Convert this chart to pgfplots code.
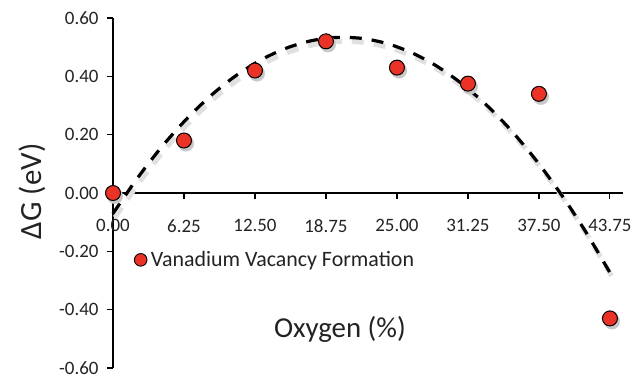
\documentclass[border=0pt]{standalone}
\usepackage{pgfplots}
\pgfplotsset{compat=1.18}
\usepackage{fontspec}
\setmainfont{Carlito}
\definecolor{vred}{RGB}{235,50,38}
\definecolor{txt}{RGB}{35,35,35}
\definecolor{shad}{RGB}{200,200,200}
\begin{document}
\begin{tikzpicture}
\path[use as bounding box] (-113bp,-9bp) rectangle (520bp,368bp);
\begin{axis}[
  at={(0,0)}, anchor=south west,
  scale only axis, width=510bp, height=350bp,
  xmin=0, xmax=44.9, ymin=-0.6, ymax=0.6,
  axis x line=middle, axis y line=left,
  axis line style={-, line width=1.1bp, black},
  hide obscured x ticks=false, hide obscured y ticks=false,
  xtick={0,6.25,12.5,18.75,25,31.25,37.5,43.75},
  ytick={-0.6,-0.4,-0.2,0,0.2,0.4,0.6},
  tick style={line width=1.1bp, black},
  major tick length=6bp,
  tick align=outside,
  /pgf/number format/.cd, fixed, fixed zerofill, precision=2, assume math mode=true,
  /pgfplots/.cd,
  every tick label/.append style={font=\fontsize{19}{22}\selectfont, text=txt},
  xticklabel style={yshift=-17bp},
  yticklabel style={xshift=-5bp},
  xlabel={Oxygen (\%)},
  ylabel={ΔG (eV)},
  xlabel style={at={(axis description cs:0.445,0.109)}, anchor=center, font=\fontsize{29}{34}\selectfont, text=txt},
  ylabel style={at={(axis description cs:-0.159,0.505)}, anchor=center, font=\fontsize{31}{36}\selectfont, text=txt},
  legend style={at={(axis description cs:0.031,0.309)}, anchor=west, draw=none, fill=none,
    font=\fontsize{22}{26}\selectfont, text=txt,
    /tikz/every even column/.append style={column sep=0pt}},
  legend cell align=left,
  legend image code/.code={\draw[#1] plot coordinates {(0.3cm,0cm)};\path (0cm,0cm) (0.58cm,0cm);},
  clip=false,
]
% marker shadows
\addplot[forget plot, only marks, mark=*, mark size=7.8bp, xshift=2bp, yshift=-3bp,
  mark options={draw=shad, fill=shad}]
  coordinates {(0,0) (6.25,0.18) (12.5,0.42) (18.75,0.52) (25,0.43) (31.25,0.375) (37.5,0.34) (43.75,-0.43)};
% trend line shadow
\addplot[forget plot, smooth, no marks, line width=5bp, black!12, xshift=2bp, yshift=-4bp,
  dash pattern=on 12bp off 10bp]
  coordinates {(0,-0.0701) (2.1875,0.0530) (4.375,0.1622) (6.5625,0.2573) (8.75,0.3385) (10.9375,0.4055)
   (13.125,0.4585) (15.3125,0.4974) (17.5,0.5224) (19.6875,0.5333) (21.875,0.5302) (24.0625,0.5131)
   (26.25,0.4818) (28.4375,0.4366) (30.625,0.3773) (32.8125,0.3041) (35,0.2167) (37.1875,0.1153)
   (39.375,-0.0002) (41.5625,-0.1296) (43.75,-0.2731)};
% markers
\addplot[forget plot, only marks, mark=*, mark size=7.5bp,
  mark options={draw=black, line width=1bp, fill=vred}]
  coordinates {(0,0) (6.25,0.18) (12.5,0.42) (18.75,0.52) (25,0.43) (31.25,0.375) (37.5,0.34) (43.75,-0.43)};
% trend line
\addplot[forget plot, smooth, no marks, line width=3.2bp, black, dash pattern=on 12bp off 10bp]
  coordinates {(0,-0.0701) (2.1875,0.0530) (4.375,0.1622) (6.5625,0.2573) (8.75,0.3385) (10.9375,0.4055)
   (13.125,0.4585) (15.3125,0.4974) (17.5,0.5224) (19.6875,0.5333) (21.875,0.5302) (24.0625,0.5131)
   (26.25,0.4818) (28.4375,0.4366) (30.625,0.3773) (32.8125,0.3041) (35,0.2167) (37.1875,0.1153)
   (39.375,-0.0002) (41.5625,-0.1296) (43.75,-0.2731)};
\addlegendimage{only marks, mark=*, mark size=6.3bp, mark options={draw=black, line width=0.9bp, fill=vred}}
\addlegendentry{Vanadium Vacancy Formation}
\end{axis}
\end{tikzpicture}
\end{document}
